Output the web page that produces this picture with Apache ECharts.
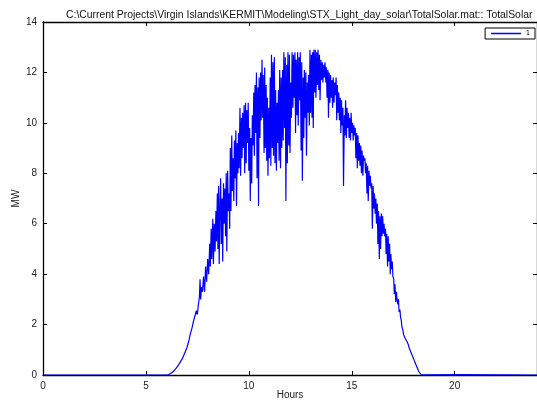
<!DOCTYPE html>
<html>
<head>
<meta charset="utf-8">
<script src="https://cdn.jsdelivr.net/npm/echarts@6/dist/echarts.min.js"></script>
<style>html,body{margin:0;padding:0;background:#fff}#c{width:537px;height:401px}</style>
</head>
<body>
<div id="c"></div>
<script>
var titleText = "C:\\Current Projects\\Virgin Islands\\KERMIT\\Modeling\\STX_Light_day_solar\\TotalSolar.mat:: TotalSolar";
var xTicks = [0, 5, 10, 15, 20];
var yTicks = [0, 2, 4, 6, 8, 10, 12, 14];
var hours = [0,6.0,6.1,6.2,6.3,6.4,6.5,6.6,6.7,6.8,6.9,7.0,7.05,7.1,7.15,7.2,7.25,7.3,7.35,7.4,7.45,7.5,7.55,7.6,7.63,7.66,7.7,7.75,7.8,7.85,7.9,7.95,8.0,8.05,8.1,8.13,8.17,8.2,8.25,8.28,8.32,8.36,8.4,8.43,8.47,8.5,8.53,8.56,8.6,
8.63,8.66,8.7,8.73,8.77,8.8,8.84,8.87,8.9,8.93,8.97,9.0,9.04,9.07,9.1,9.13,9.17,9.2,9.24,9.27,9.3,9.33,9.37,9.4,9.44,9.47,9.5,9.53,9.57,9.6,9.64,9.67,9.7,9.74,9.77,9.8,9.84,9.87,9.9,9.94,9.97,10.0,10.04,10.07,10.1,10.14,10.17,10.2,10.24,10.27,10.3,10.34,10.37,10.4,10.44,10.47,10.5,10.54,10.57,10.6,10.64,10.67,10.7,10.74,10.77,10.8,
10.84,10.87,10.9,10.93,10.97,11.0,11.04,11.07,11.1,11.14,11.17,11.2,11.24,11.27,11.3,11.34,11.37,11.4,11.44,11.47,11.5,11.54,11.57,11.6,11.64,11.67,11.7,11.74,11.77,11.8,11.84,11.87,11.9,11.94,11.97,12.0,12.04,12.07,12.1,12.14,12.17,12.2,12.24,12.27,12.3,12.34,12.37,12.4,12.44,12.47,12.5,12.54,12.57,12.6,12.64,12.67,12.7,12.74,12.77,12.8,12.84,12.87,12.9,12.94,12.97,13.0,13.04,13.07,
13.1,13.13,13.16,13.2,13.23,13.26,13.3,13.33,13.36,13.4,13.43,13.46,13.5,13.53,13.57,13.6,13.64,13.67,13.7,13.74,13.77,13.8,13.84,13.87,13.9,13.94,13.97,14.0,14.04,14.07,14.1,14.14,14.17,14.2,14.24,14.27,14.3,14.34,14.37,14.4,14.44,14.47,14.5,14.54,14.57,14.6,14.64,14.67,14.7,14.74,14.77,14.8,14.84,14.87,14.9,14.94,14.97,15.0,15.04,15.07,15.1,15.14,15.17,15.2,15.24,15.27,15.3,15.34,15.37,15.4,
15.44,15.47,15.5,15.54,15.57,15.6,15.64,15.67,15.7,15.74,15.77,15.8,15.84,15.87,15.9,15.94,15.97,16.0,16.04,16.07,16.1,16.14,16.17,16.2,16.24,16.27,16.3,16.34,16.37,16.4,16.44,16.47,16.5,16.54,16.57,16.6,16.64,16.67,16.7,16.74,16.77,16.8,16.84,16.87,16.9,16.94,16.97,17.0,17.04,17.07,17.1,17.14,17.17,17.2,17.24,17.27,17.3,17.34,17.37,17.4,17.44,17.48,17.52,17.56,17.6,17.65,17.7,17.75,17.8,17.85,17.9,17.95,18.0,18.05,18.1,18.15,18.2,18.25,18.3,18.35,18.4,24];
var totalSolarMW = [0,0,0.02,0.06,0.12,0.2,0.3,0.42,0.55,0.7,0.9,1.1,1.25,1.4,1.6,1.75,1.9,2.1,2.25,2.4,2.55,2.4,2.8,3.1,3.8,3.0,3.5,3.3,3.9,3.3,4.3,3.7,4.6,4.0,5.2,4.3,5.8,4.6,6.2,4.4,6.0,4.9,6.5,5.3,7.2,5.0,7.5,4.4,6.8,
7.8,5.2,7.0,4.5,7.6,6.0,7.4,5.5,8.0,4.9,8.1,6.5,7.2,5.8,9.0,6.5,9.5,7.3,8.6,6.9,9.3,7.8,9.7,6.7,9.2,8.0,9.6,8.2,10.6,7.9,10.2,8.6,10.4,9.0,10.7,8.0,10.8,8.4,10.5,9.2,10.8,8.1,9.8,6.9,9.4,7.6,10.3,9.1,11.2,8.7,11.5,9.6,12.0,7.8,11.4,6.7,11.8,9.4,12.0,10.1,12.5,10.2,11.9,8.8,12.2,9.0,
11.5,8.5,11.0,7.9,10.6,8.6,11.8,8.3,12.7,9.0,12.4,8.7,12.6,8.4,11.3,8.1,10.8,9.2,11.3,8.5,12.1,8.2,11.8,9.0,12.1,9.3,12.8,9.8,12.6,6.9,12.3,8.4,12.8,9.1,12.7,8.8,11.6,10.2,12.8,10.6,12.7,11.0,12.8,9.6,12.5,10.3,12.8,9.9,12.6,10.9,12.8,8.9,12.4,7.7,11.8,9.4,12.1,10.2,12.0,8.7,11.6,10.4,11.9,9.9,12.9,10.4,12.7,10.2,
12.8,9.8,12.9,11.2,12.9,11.0,12.8,11.5,12.9,11.3,12.7,10.9,12.5,11.7,12.4,11.6,12.3,11.8,12.4,11.6,12.2,11.0,12.1,10.2,12.0,10.8,11.9,11.0,11.7,10.6,11.8,10.8,11.6,11.1,11.8,10.1,11.5,10.4,11.2,10.1,11.0,9.6,10.9,9.9,10.6,7.5,10.3,9.5,10.9,9.4,10.6,9.8,10.4,9.4,10.2,9.3,10.4,9.6,10.0,9.3,9.9,9.5,9.8,8.6,9.6,8.2,9.5,8.5,9.2,8.3,
9.1,8.0,8.9,7.9,8.7,8.5,8.6,8.0,8.4,7.2,8.3,6.9,8.1,7.5,7.9,7.4,7.6,5.8,7.5,6.6,7.2,6.4,7.0,6.0,6.8,5.2,6.5,4.6,6.3,5.0,6.4,5.5,6.3,5.6,6.0,5.5,5.8,4.8,5.6,4.3,5.5,4.5,5.2,4.0,4.8,4.2,4.5,3.9,3.8,3.2,3.6,2.9,3.3,3.0,2.8,3.0,2.5,2.6,2.3,2.2,1.9,1.8,1.6,1.6,1.45,1.4,1.3,1.2,1.05,0.95,0.85,0.75,0.65,0.55,0.45,0.35,0.25,0.15,0.08,0.03,0,0];

var seriesData = hours.map(function (h, i) { return [h, totalSolarMW[i]]; });
var font = 'Liberation Sans, Arial, Helvetica, sans-serif';
var chart = echarts.init(document.getElementById('c'), null, {renderer: 'canvas'});
var axisCommon = {
  axisLine: {show: true, onZero: false, lineStyle: {color: '#000', width: 1.3}},
  axisTick: {show: true, inside: true, length: 4, lineStyle: {color: '#000', width: 1}},
  splitLine: {show: false}
};
chart.setOption({
  animation: false,
  backgroundColor: '#fff',
  title: {
    text: titleText, left: 61, top: 5,
    textStyle: {fontFamily: font, fontSize: 10.4, fontWeight: 'normal', color: '#111'}
  },
  legend: {
    right: 2, top: 28, orient: 'horizontal',
    borderColor: '#000', borderWidth: 1, padding: [2, 5, 2, 6],
    itemWidth: 30, itemHeight: 1.5, itemGap: 2, icon: 'rect',
    textStyle: {fontFamily: font, fontSize: 7, color: '#000', padding: [0, 0, 0, 0]},
    data: [{name: '1', itemStyle: {color: '#0000ff'}}]
  },
  grid: {left: 43, right: 0, top: 22, bottom: 26, containLabel: false, outerBoundsMode: 'none'},
  xAxis: [
    Object.assign({
      type: 'value', min: 0, max: 24, interval: 5, position: 'bottom',
      name: 'Hours', nameLocation: 'middle', nameGap: 15, nameMoveOverlap: false,
      nameTextStyle: {fontFamily: font, fontSize: 10, color: '#222'},
      axisLabel: {fontFamily: font, fontSize: 10, color: '#222', margin: 6, showMaxLabel: false,
        formatter: function (v) { return xTicks.indexOf(v) >= 0 ? String(v) : ''; }}
    }, axisCommon),
    Object.assign({
      type: 'value', min: 0, max: 24, interval: 5, position: 'top',
      axisLabel: {show: false}
    }, axisCommon)
  ],
  yAxis: [
    Object.assign({
      type: 'value', min: 0, max: 14, interval: 2, position: 'left',
      name: 'MW', nameLocation: 'middle', nameGap: 22, nameRotate: 90, nameMoveOverlap: false,
      nameTextStyle: {fontFamily: font, fontSize: 10, color: '#222'},
      axisLabel: {fontFamily: font, fontSize: 10, color: '#222', margin: 6,
        formatter: function (v) { return yTicks.indexOf(v) >= 0 ? String(v) : ''; }}
    }, axisCommon),
    Object.assign({
      type: 'value', min: 0, max: 14, interval: 2, position: 'right',
      axisLabel: {show: false}
    }, axisCommon)
  ],
  series: [{
    name: '1', type: 'line', data: seriesData, xAxisIndex: 0, yAxisIndex: 0,
    showSymbol: false, symbol: 'none', sampling: null, z: 3,
    lineStyle: {color: '#0000ff', width: 1.2},
    itemStyle: {color: '#0000ff'}
  }]
});
</script>
</body>
</html>
